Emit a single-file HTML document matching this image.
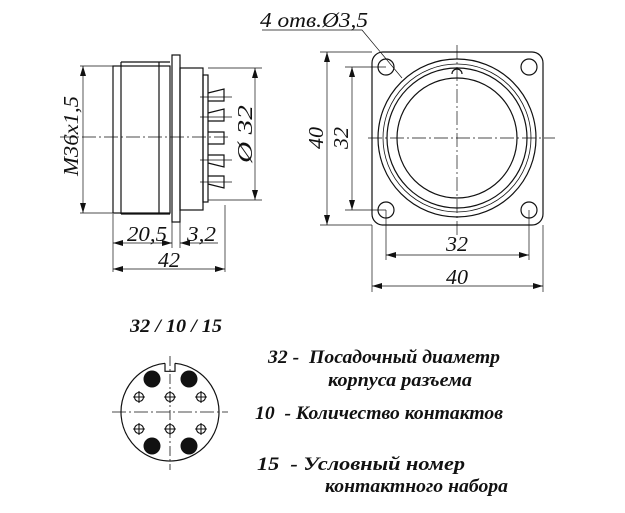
<!DOCTYPE html>
<html><head><meta charset="utf-8"><style>
html,body{margin:0;padding:0;background:#fff}
svg{display:block}
text{font-family:"Liberation Serif","DejaVu Serif",serif;font-style:italic;fill:#111;white-space:pre}
.b{font-weight:bold;font-size:19px}
.d{font-size:21px}
</style></head><body>
<svg width="625" height="513" viewBox="0 0 625 513" xmlns="http://www.w3.org/2000/svg">
<defs><marker id="a" viewBox="0 0 10 6" refX="10" refY="3" markerWidth="10" markerHeight="6" orient="auto-start-reverse" markerUnits="userSpaceOnUse"><path d="M0,0 L10,3 L0,6z" fill="#111"/></marker></defs>
<g stroke="#111" fill="none" stroke-width="1.2">
<rect x="113" y="66" width="57" height="147"/>
<line x1="121" y1="62" x2="121" y2="214"/>
<line x1="159" y1="62" x2="159" y2="214"/>
<line x1="121" y1="62" x2="170" y2="62"/><line x1="121" y1="214" x2="170" y2="214"/>
<rect x="172" y="55" width="8" height="167"/>
<rect x="180" y="68" width="23" height="142"/>
<rect x="203" y="75" width="5" height="127"/>
<path d="M208,93 l16,-4 v12 h-16 M208,113 l16,-4 v12 h-16 M208,132 h16 v12 h-16 M208,155 h16 v12 l-16,-4 M208,176 h16 v12 l-16,-4"/>
<g stroke-width="0.7"><line x1="60" y1="137" x2="230" y2="137" stroke-dasharray="14 3 2 3"/>
<line x1="200" y1="97" x2="232" y2="97"/><line x1="200" y1="117" x2="232" y2="117"/><line x1="200" y1="160" x2="232" y2="160"/><line x1="200" y1="182" x2="232" y2="182"/>
<line x1="80" y1="66" x2="113" y2="66"/><line x1="80" y1="213" x2="113" y2="213"/>
<line x1="208" y1="68" x2="262" y2="68"/><line x1="208" y1="200" x2="262" y2="200"/>
<line x1="113" y1="214" x2="113" y2="272"/><line x1="172" y1="222" x2="172" y2="248"/><line x1="180" y1="222" x2="180" y2="248"/><line x1="225" y1="205" x2="225" y2="272"/>
<line x1="83" y1="66" x2="83" y2="213" marker-start="url(#a)" marker-end="url(#a)"/>
<line x1="255" y1="68" x2="255" y2="200" marker-start="url(#a)" marker-end="url(#a)"/>
<line x1="113" y1="243" x2="172" y2="243" marker-start="url(#a)" marker-end="url(#a)"/>
<line x1="180" y1="243" x2="218" y2="243" marker-start="url(#a)"/>
<line x1="113" y1="269" x2="225" y2="269" marker-start="url(#a)" marker-end="url(#a)"/>
</g>
<rect x="372" y="52" width="171" height="173" rx="11"/>
<circle cx="457" cy="138" r="79"/><circle cx="457" cy="138" r="74" stroke-width="0.8"/><circle cx="457" cy="138" r="70"/><circle cx="457" cy="138" r="60"/>
<path d="M452,74 a5,5 0 0 1 10,0"/>
<circle cx="386" cy="67" r="8"/><circle cx="529" cy="67" r="8"/><circle cx="386" cy="210" r="8"/><circle cx="529" cy="210" r="8"/>
<g stroke-width="0.7">
<line x1="457" y1="45" x2="457" y2="235" stroke-dasharray="14 3 2 3"/>
<line x1="368" y1="138" x2="555" y2="138" stroke-dasharray="14 3 2 3"/>
<line x1="320" y1="52" x2="372" y2="52"/><line x1="320" y1="225" x2="372" y2="225"/>
<line x1="345" y1="67" x2="386" y2="67"/><line x1="345" y1="210" x2="386" y2="210"/>
<line x1="386" y1="210" x2="386" y2="260"/><line x1="529" y1="210" x2="529" y2="260"/>
<line x1="372" y1="225" x2="372" y2="292"/><line x1="543" y1="225" x2="543" y2="292"/>
<line x1="327" y1="52" x2="327" y2="225" marker-start="url(#a)" marker-end="url(#a)"/>
<line x1="352" y1="67" x2="352" y2="210" marker-start="url(#a)" marker-end="url(#a)"/>
<line x1="386" y1="255" x2="529" y2="255" marker-start="url(#a)" marker-end="url(#a)"/>
<line x1="372" y1="286" x2="543" y2="286" marker-start="url(#a)" marker-end="url(#a)"/>
<polyline points="262,30 362,30 402,78"/>
</g>
<path d="M165,363.3 A49,49 0 1 0 175,363.3"/>
<path d="M165,363.3 v8 h10 v-8"/>
<g stroke-width="0.8">
<line x1="112" y1="412" x2="228" y2="412" stroke-dasharray="14 3 2 3"/>
<line x1="170" y1="356" x2="170" y2="470" stroke-dasharray="10 3 2 3"/>
</g>
</g>
<g fill="#111"><circle cx="152" cy="379" r="8.5"/><circle cx="189" cy="379" r="8.5"/><circle cx="152" cy="446" r="8.5"/><circle cx="189" cy="446" r="8.5"/></g>
<g stroke="#111" fill="none" stroke-width="1.1">
<circle cx="139" cy="397" r="4.5"/><circle cx="170" cy="397" r="4.5"/><circle cx="201" cy="397" r="4.5"/>
<circle cx="139" cy="429" r="4.5"/><circle cx="170" cy="429" r="4.5"/><circle cx="201" cy="429" r="4.5"/>
<path d="M133,397h12M139,391v12M164,397h12M170,391v12M195,397h12M201,391v12M133,429h12M139,423v12M164,429h12M170,423v12M195,429h12M201,423v12"/>
</g>
<text class="d" transform="translate(78,136) rotate(-90)" text-anchor="middle" textLength="80" lengthAdjust="spacingAndGlyphs">M36x1,5</text>
<text class="d" transform="translate(252,134) rotate(-90)" text-anchor="middle" textLength="58" lengthAdjust="spacingAndGlyphs">Ø 32</text>
<text class="d" x="127" y="241" textLength="40" lengthAdjust="spacingAndGlyphs">20,5</text>
<text class="d" x="187" y="241" textLength="29" lengthAdjust="spacingAndGlyphs">3,2</text>
<text class="d" x="158" y="267" textLength="22" lengthAdjust="spacingAndGlyphs">42</text>
<text class="d" x="260" y="27" textLength="108" lengthAdjust="spacingAndGlyphs">4 отв.Ø3,5</text>
<text class="d" transform="translate(323,138) rotate(-90)" text-anchor="middle" textLength="22" lengthAdjust="spacingAndGlyphs">40</text>
<text class="d" transform="translate(348,138) rotate(-90)" text-anchor="middle" textLength="22" lengthAdjust="spacingAndGlyphs">32</text>
<text class="d" x="446" y="251" textLength="22" lengthAdjust="spacingAndGlyphs">32</text>
<text class="d" x="446" y="284" textLength="22" lengthAdjust="spacingAndGlyphs">40</text>
<text class="b" x="130" y="332" textLength="92" lengthAdjust="spacingAndGlyphs">32 / 10 / 15</text>
<text class="b" x="268" y="363" textLength="232" lengthAdjust="spacingAndGlyphs">32 -  Посадочный диаметр</text>
<text class="b" x="328" y="386" textLength="144" lengthAdjust="spacingAndGlyphs">корпуса разъема</text>
<text class="b" x="255" y="419" textLength="248" lengthAdjust="spacingAndGlyphs">10  - Количество контактов</text>
<text class="b" x="257" y="470" textLength="208" lengthAdjust="spacingAndGlyphs">15  - Условный номер</text>
<text class="b" x="325" y="492" textLength="183" lengthAdjust="spacingAndGlyphs">контактного набора</text>
</svg>
</body></html>
